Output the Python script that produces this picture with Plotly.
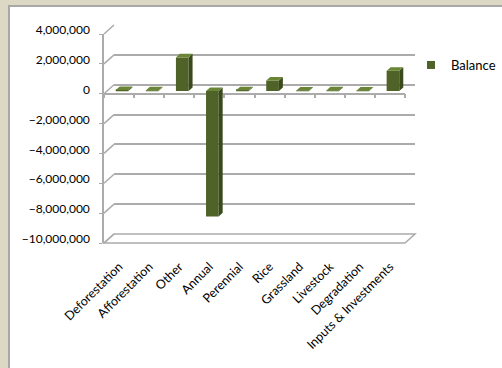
import plotly.graph_objects as go

# ---------------- data ----------------
categories = ["Deforestation", "Afforestation", "Other", "Annual", "Perennial",
              "Rice", "Grassland", "Livestock", "Degradation", "Inputs & Investments"]
balance = [60000, 40000, 2250000, -8400000, 50000, 700000, 30000, 40000, 20000, 1350000]
y_ticks = [-10000000, -8000000, -6000000, -4000000, -2000000, 0, 2000000, 4000000]
series_name = "Balance"

# ---------------- geometry / style ----------------
W, H = 502, 368
L_PX, R_PX, T_PX, B_PX = 104, 415, 25, 243     # full plot area (front + depth)
PW, PH = R_PX - L_PX, B_PX - T_PX
DX, DY = 10, 9                                   # 3D depth offset in px
fx, fy = (PW - DX) / PW, (PH - DY) / PH
bx, by = DX / PW, DY / PH
ymin, ymax = min(y_ticks), max(y_ticks)
xmin, xmax = -0.5, len(categories) - 0.5
BAR_D0, BAR_D = 0.3, 0.4                         # bar front-face depth, bar depth
BW = 0.42

GRID = "#ABABAB"
FRONT = "#4F6228"
SIDE = "#3A4A1C"
TOP = "#6A8536"
FONT = "Lato"


def px_x(p):
    return (p - L_PX) / PW


def px_y(p):
    return (B_PX - p) / PH


def front_y(v):
    return fy * (v - ymin) / (ymax - ymin)


def back_y(v):
    return by + (1 - by) * (v - ymin) / (ymax - ymin)


ppx = (PW - DX) / (xmax - xmin)
ppy = (PH - DY) / (ymax - ymin)
ddx = BAR_D * DX / ppx
ddy = BAR_D * DY / ppy

fig = go.Figure()

# dummy trace so the back-wall subplot (gridlines) exists
fig.add_trace(go.Scatter(x=[None], y=[None], mode="markers", showlegend=False,
                         hoverinfo="skip", xaxis="x2", yaxis="y2"))

# side faces and top faces of the columns
side_x, side_y, top_x, top_y = [], [], [], []
for i, v in enumerate(balance):
    xl, xr = i - BW / 2, i + BW / 2
    side_x += [xr, xr, xr + ddx, xr + ddx, xr, None]
    side_y += [0, v, v + ddy, ddy, 0, None]
    t = max(v, 0)
    top_x += [xl, xr, xr + ddx, xl + ddx, xl, None]
    top_y += [t, t, t + ddy, t + ddy, t, None]

fig.add_trace(go.Scatter(x=side_x, y=side_y, mode="lines", fill="toself",
                         fillcolor=SIDE, line=dict(width=0), hoverinfo="skip",
                         showlegend=False, xaxis="x3", yaxis="y3"))
fig.add_trace(go.Scatter(x=top_x, y=top_y, mode="lines", fill="toself",
                         fillcolor=TOP, line=dict(width=0), hoverinfo="skip",
                         showlegend=False, xaxis="x3", yaxis="y3"))
fig.add_trace(go.Bar(x=list(range(len(categories))), y=balance, width=BW,
                     marker=dict(color=FRONT, line=dict(width=0)),
                     name=series_name, showlegend=False, xaxis="x3", yaxis="y3"))

# legend entry
fig.add_trace(go.Scatter(x=[None], y=[None], mode="markers", name=series_name,
                         marker=dict(symbol="square", size=8, color=FRONT)))
# dummy for the zero (category) axis
fig.add_trace(go.Scatter(x=[None], y=[None], mode="markers", showlegend=False,
                         xaxis="x4", yaxis="y"))

shapes = []
# white panel with grey border
shapes.append(dict(type="rect", xref="paper", yref="paper",
                   x0=px_x(9), x1=px_x(W + 6), y0=px_y(H + 6), y1=px_y(6),
                   fillcolor="white", line=dict(color="#A8A8A8", width=2), layer="below"))
# left-wall connectors
for v in y_ticks:
    shapes.append(dict(type="line", xref="paper", yref="paper",
                       x0=0, y0=front_y(v), x1=bx, y1=back_y(v),
                       line=dict(color=GRID, width=1.5)))
# floor
shapes.append(dict(type="path", xref="paper", yref="paper",
                   path=f"M0,{front_y(ymin)} L{fx},{front_y(ymin)} L1,{back_y(ymin)} "
                        f"L{bx},{back_y(ymin)} Z",
                   line=dict(color=GRID, width=1.5)))

tickfont = dict(family=FONT, size=12, color="#000000")

fig.update_layout(
    width=W, height=H,
    margin=dict(l=L_PX, r=W - R_PX, t=T_PX, b=H - B_PX, autoexpand=False),
    paper_bgcolor="#DDD8C3", plot_bgcolor="rgba(0,0,0,0)",
    font=dict(family=FONT, size=12, color="#000000"),
    shapes=shapes,
    showlegend=True,
    legend=dict(x=px_x(501), y=px_y(50), xanchor="right", yanchor="top",
                font=dict(family=FONT, size=13, color="#000000"),
                bgcolor="rgba(0,0,0,0)", itemwidth=30),
    xaxis=dict(domain=[0, fx], range=[xmin, xmax], anchor="y", automargin=False,
               tickvals=list(range(len(categories))), ticktext=categories,
               tickangle=-45, showgrid=False, zeroline=False, showline=False,
               ticks="", tickfont=dict(family=FONT, size=12.5, color="#000000"),
               ticklabelstandoff=13),
    yaxis=dict(domain=[0, fy], range=[ymin, ymax], anchor="x", automargin=False,
               tickvals=y_ticks, tickformat=",", showgrid=False, zeroline=False,
               showline=True, linecolor=GRID, linewidth=1.5, ticks="outside",
               ticklen=3, tickcolor=GRID, tickfont=tickfont, ticklabelstandoff=7,
               ticklabelshift=-4),
    xaxis2=dict(domain=[bx, 1], range=[xmin, xmax], anchor="y2", automargin=False,
                showgrid=False, zeroline=False, showline=False, showticklabels=False),
    yaxis2=dict(domain=[by, 1], range=[ymin, ymax], anchor="x2", automargin=False,
                tickvals=y_ticks, showgrid=True, gridcolor=GRID, gridwidth=1.5,
                zeroline=False, showline=False, showticklabels=False),
    xaxis3=dict(domain=[BAR_D0 * bx, fx + BAR_D0 * bx], range=[xmin, xmax], anchor="y3",
                visible=False),
    yaxis3=dict(domain=[BAR_D0 * by, fy + BAR_D0 * by], range=[ymin, ymax], anchor="x3",
                visible=False),
    xaxis4=dict(domain=[0, fx], range=[xmin, xmax], anchor="free", automargin=False,
                position=front_y(0), overlaying="x",
                tickvals=[k - 0.5 for k in range(len(categories) + 1)],
                ticks="outside", ticklen=4, tickcolor=GRID, tickwidth=1.5,
                showticklabels=False, showgrid=False, zeroline=False,
                showline=True, linecolor=GRID, linewidth=1.5),
)

fig.write_html("out.html", config={"displayModeBar": False},
               post_script="document.body.style.margin='0';document.body.style.overflow='hidden';")
